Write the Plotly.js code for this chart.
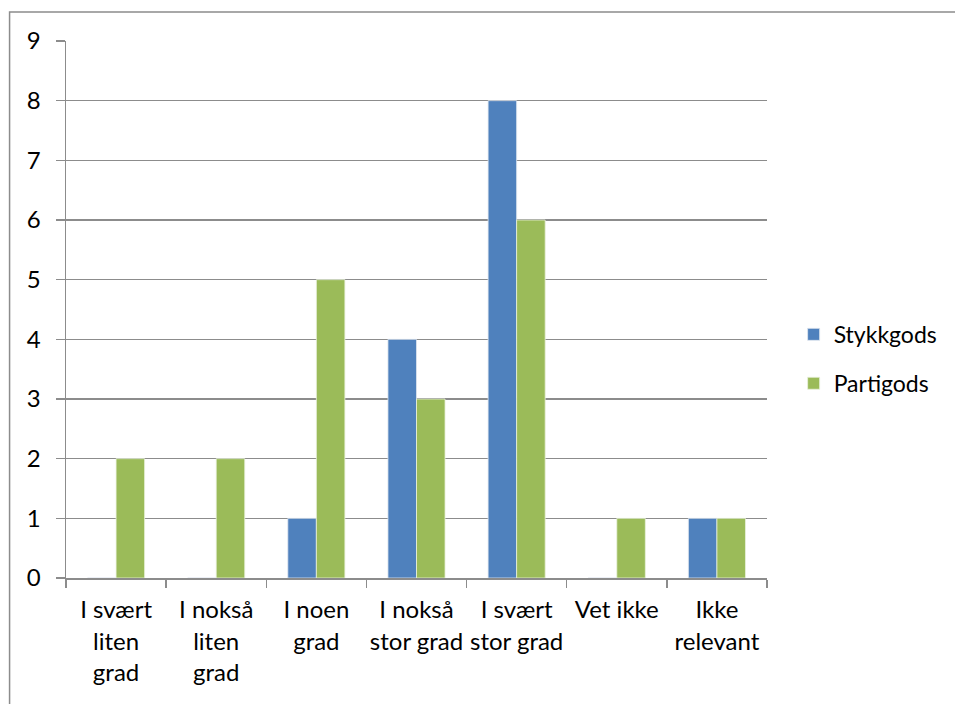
<!DOCTYPE html>
<html>
<head>
<meta charset="utf-8">
<script src="https://cdn.plot.ly/plotly-3.0.1.min.js"></script>
<style>
  html, body { margin: 0; padding: 0; background: #ffffff; }
  #chart { width: 955px; height: 704px; }
</style>
</head>
<body>
<div id="chart"></div>
<script>
// Answer categories (x axis)
const categories = [
  "I svært<br>liten<br>grad",
  "I nokså<br>liten<br>grad",
  "I noen<br>grad",
  "I nokså<br>stor grad",
  "I svært<br>stor grad",
  "Vet ikke",
  "Ikke<br>relevant"
];

// Number of answers per cargo type
const stykkgods = [0, 0, 1, 4, 8, 0, 1];
const partigods = [2, 2, 5, 3, 6, 1, 1];

const seriesNames = ["Stykkgods", "Partigods"];
const yTicks = [0, 1, 2, 3, 4, 5, 6, 7, 8, 9];

const font = "Lato, 'Open Sans', sans-serif";
const gray = "#8c8c8c";
const fs = 24;

const traces = [
  {
    type: "bar", name: seriesNames[0], x: categories, y: stykkgods,
    marker: { color: "#4f81bd", line: { color: "#dfe6ef", width: 0.8 } },
    legendgroup: "a", hoverinfo: "x+y+name"
  },
  {
    type: "bar", name: seriesNames[1], x: categories, y: partigods,
    marker: { color: "#9bbb59", line: { color: "#eaf1dd", width: 0.8 } },
    legendgroup: "b", hoverinfo: "x+y+name"
  }
];

const layout = {
  width: 955, height: 704,
  margin: { l: 66, r: 184, t: 41, b: 126 },
  paper_bgcolor: "#ffffff", plot_bgcolor: "#ffffff",
  barmode: "group", bargap: 0.43, bargroupgap: 0,
  font: { family: font, size: fs, color: "#000000" },
  showlegend: true,
  legend: {
    x: 1.038, xanchor: "left", y: 0.408, yanchor: "middle",
    font: { family: font, size: fs - 1, color: "#000000" },
    traceorder: "grouped", tracegroupgap: 16,
    itemwidth: 30, bgcolor: "rgba(0,0,0,0)"
  },
  xaxis: {
    type: "category",
    showgrid: false,
    showline: true, linecolor: gray, linewidth: 1.5,
    ticks: "outside", tickson: "boundaries", ticklen: 8, tickcolor: gray, tickwidth: 1.5,
    ticklabelstandoff: 10,
    tickfont: { family: font, size: fs, color: "#000000" },
    tickangle: 0,
    fixedrange: true
  },
  yaxis: {
    range: [0, 9],
    tickvals: yTicks, ticktext: yTicks.map(String),
    showgrid: true, gridcolor: gray, gridwidth: 1.5,
    zeroline: false,
    showline: true, linecolor: gray, linewidth: 1.5,
    ticks: "outside", ticklen: 9, tickcolor: gray, tickwidth: 1.5,
    ticklabelstandoff: 10,
    tickfont: { family: font, size: fs, color: "#000000" },
    fixedrange: true
  },
  shapes: [
    {
      type: "rect", xref: "paper", yref: "paper",
      x0: -0.0805, x1: 1.4, y0: -0.3, y1: 1.054,
      line: { color: "#8c8c8c", width: 1.5 }, fillcolor: "rgba(0,0,0,0)",
      layer: "below"
    }
  ]
};

Plotly.newPlot("chart", traces, layout, { displayModeBar: false, staticPlot: true });
</script>
</body>
</html>
